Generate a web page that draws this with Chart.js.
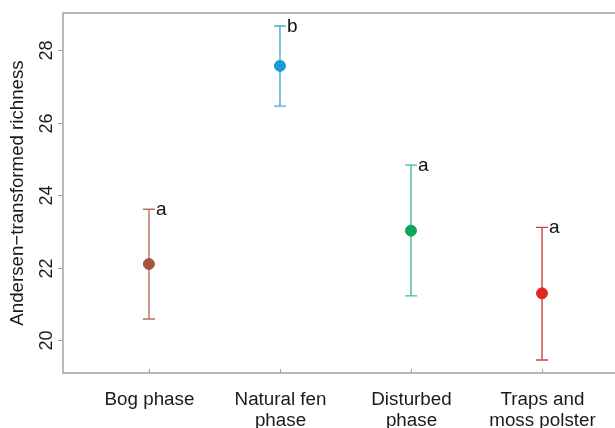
<!DOCTYPE html>
<html>
<head>
<meta charset="utf-8">
<script src="https://cdn.jsdelivr.net/npm/chart.js@4.4.1/dist/chart.umd.min.js"></script>
<style>
  html, body { margin: 0; padding: 0; background: #fff; overflow: hidden; }
  canvas { display: block; }
</style>
</head>
<body>
<canvas id="myChart" width="615" height="428"></canvas>
<script>
// data
const categories = [['Bog phase'], ['Natural fen', 'phase'], ['Disturbed', 'phase'], ['Traps and', 'moss polster']];
const means = [22.10, 27.57, 23.02, 21.29];
const lower = [20.58, 26.46, 21.22, 19.45];
const upper = [23.61, 28.67, 24.83, 23.11];
const letters = ['a', 'b', 'a', 'a'];
const yTicks = [20, 22, 24, 26, 28];

const dotColors = ['#a4553f', '#1a9ad6', '#0ea55a', '#e0281e'];
const barColors = ['#b7715f', '#45afd3', '#43bf83', '#c9463b'];

const ctx = document.querySelector('#myChart');
const FONT = 'Liberation Sans, Arial, sans-serif';
const AXIS = '#a3a3a3';

// axes, ticks, error bars and letters drawn off the chart scales
const errorBars = {
    id: 'errorBars',
    beforeDatasetsDraw(chart) {
        const c = chart.ctx, x = chart.scales.x, y = chart.scales.y;
        c.save();
        c.lineWidth = 1.4;
        means.forEach((m, i) => {
            const px = x.getPixelForValue(i + 1);
            const top = y.getPixelForValue(upper[i]);
            const bot = y.getPixelForValue(lower[i]);
            c.strokeStyle = barColors[i];
            c.beginPath();
            c.moveTo(px, top); c.lineTo(px, bot);
            c.moveTo(px - 6, top); c.lineTo(px + 6, top);
            c.moveTo(px - 6, bot); c.lineTo(px + 6, bot);
            c.stroke();
            c.fillStyle = '#111';
            c.font = '19px ' + FONT;
            c.textAlign = 'left';
            c.textBaseline = 'alphabetic';
            c.fillText(letters[i], px + 7, top + 6);
        });
        c.restore();
    },
    afterDraw(chart) {
        const c = chart.ctx, a = chart.chartArea, x = chart.scales.x, y = chart.scales.y;
        c.save();
        c.strokeStyle = AXIS;
        c.lineWidth = 1.5;
        c.beginPath();
        c.moveTo(a.right + 2, a.top); c.lineTo(a.left, a.top);
        c.lineTo(a.left, a.bottom); c.lineTo(a.right + 2, a.bottom);
        c.stroke();
        c.lineWidth = 1;
        c.fillStyle = '#1a1a1a';
        c.font = '18px ' + FONT;
        c.textAlign = 'center';
        c.textBaseline = 'middle';
        yTicks.forEach(v => {
            const py = Math.round(y.getPixelForValue(v)) + 0.5;
            c.beginPath();
            c.moveTo(a.left - 5, py); c.lineTo(a.left, py);
            c.stroke();
            c.save();
            c.translate(a.left - 16, py);
            c.rotate(-Math.PI / 2);
            c.fillText(String(v), 0, 0);
            c.restore();
        });
        c.font = '18.8px ' + FONT;
        categories.forEach((lines, i) => {
            const px = Math.round(x.getPixelForValue(i + 1)) + 0.5;
            c.beginPath();
            c.moveTo(px, a.bottom - 4); c.lineTo(px, a.bottom);
            c.stroke();
            lines.forEach((t, k) => c.fillText(t, px, a.bottom + 27 + k * 20.5));
        });
        c.save();
        c.translate(18, 193);
        c.rotate(-Math.PI / 2);
        c.font = '18.7px ' + FONT;
        c.fillText('Andersen\u2212transformed richness', 0, 0);
        c.restore();
        c.restore();
    }
};

new Chart(ctx, {
    type: 'scatter',
    data: {
        datasets: [{
            data: means.map((m, i) => ({x: i + 1, y: m})),
            backgroundColor: dotColors,
            borderColor: dotColors,
            pointRadius: 5.5,
            pointHoverRadius: 5.5,
        }]
    },
    options: {
        responsive: false,
        animation: false,
        layout: { autoPadding: false, padding: { left: 63, top: 13, right: 0, bottom: 55 } },
        plugins: { legend: { display: false }, tooltip: { enabled: false } },
        scales: {
            x: { type: 'linear', min: 0.344, max: 4.557, display: false },
            y: { type: 'linear', min: 19.09, max: 29.03, display: false }
        }
    },
    plugins: [errorBars]
});
</script>
</body>
</html>
